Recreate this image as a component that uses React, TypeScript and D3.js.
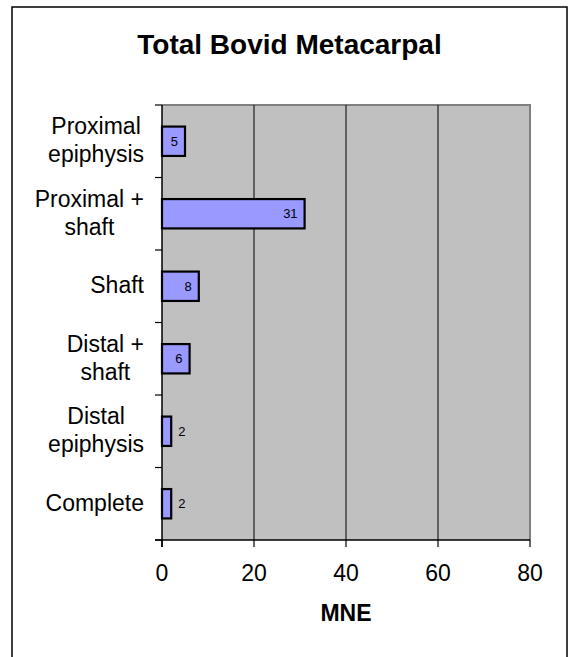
import React, { useEffect, useRef } from "react";
import * as d3 from "d3";

const categories = ["Proximal epiphysis", "Proximal + shaft", "Shaft", "Distal + shaft", "Distal epiphysis", "Complete"];
const categoryLines = [["Proximal", "epiphysis"], ["Proximal +", "shaft"], ["Shaft"], ["Distal +", "shaft"], ["Distal", "epiphysis"], ["Complete"]];
const values = [5, 31, 8, 6, 2, 2];
const xTicks = [0, 20, 40, 60, 80];
const chartTitle = "Total Bovid Metacarpal";
const xAxisTitle = "MNE";

const W = 573;
const H = 657;
const FONT = "'Liberation Sans', Arial, Helvetica, sans-serif";

export default function App() {
  const ref = useRef<SVGSVGElement | null>(null);

  useEffect(() => {
    const svg = d3.select(ref.current);
    svg.selectAll("*").remove();

    const left = 162, right = 530, top = 105, bottom = 540;
    const x = d3.scaleLinear().domain([0, 80]).range([left, right]);
    const y = d3.scaleBand<string>().domain(categories).range([top, bottom]).padding(0);
    const step = y.step();
    const barH = step * 0.405;

    // outer border
    svg.append("rect").attr("x", 12).attr("y", 7).attr("width", 555).attr("height", 660)
      .attr("fill", "white").attr("stroke", "black").attr("stroke-width", 1.5);

    // title
    svg.append("text").attr("x", 289.5).attr("y", 54).attr("text-anchor", "middle")
      .attr("font-family", FONT).attr("font-weight", "bold").attr("font-size", 28)
      .text(chartTitle);

    // plot area
    svg.append("rect").attr("x", left).attr("y", top).attr("width", right - left).attr("height", bottom - top)
      .attr("fill", "#C0C0C0");
    svg.append("path").attr("d", `M${left},${top}H${right}V${bottom}`)
      .attr("fill", "none").attr("stroke", "#808080").attr("stroke-width", 2);

    // gridlines
    svg.append("g").selectAll("line").data(xTicks.filter(t => t > 0 && t < 80)).join("line")
      .attr("x1", d => x(d)).attr("x2", d => x(d)).attr("y1", top).attr("y2", bottom)
      .attr("stroke", "black").attr("stroke-width", 1);

    // bars
    const g = svg.append("g");
    categories.forEach((c, i) => {
      const yc = (y(c) as number) + step / 2;
      g.append("rect").attr("x", x(0)).attr("y", yc - barH / 2)
        .attr("width", x(values[i]) - x(0)).attr("height", barH)
        .attr("fill", "#9999FF").attr("stroke", "black").attr("stroke-width", 2.2);
      const w = x(values[i]) - x(0);
      const inside = w > 20;
      g.append("text")
        .attr("x", inside ? x(values[i]) - 7 : x(values[i]) + 7)
        .attr("y", yc + 4.7)
        .attr("text-anchor", inside ? "end" : "start")
        .attr("font-family", FONT).attr("font-size", 13)
        .text(String(values[i]));
    });

    // axes lines
    svg.append("line").attr("x1", left).attr("x2", left).attr("y1", top).attr("y2", bottom + 7)
      .attr("stroke", "black").attr("stroke-width", 1.5);
    svg.append("line").attr("x1", left - 7).attr("x2", right).attr("y1", bottom).attr("y2", bottom)
      .attr("stroke", "black").attr("stroke-width", 1.5);
    // y ticks at band boundaries
    const boundaries = categories.map(c => y(c) as number).concat([bottom]);
    svg.append("g").selectAll("line").data(boundaries).join("line")
      .attr("x1", left - 7).attr("x2", left).attr("y1", d => d).attr("y2", d => d)
      .attr("stroke", "black").attr("stroke-width", 1.2);
    // x ticks
    svg.append("g").selectAll("line").data(xTicks).join("line")
      .attr("x1", d => x(d)).attr("x2", d => x(d)).attr("y1", bottom).attr("y2", bottom + 7)
      .attr("stroke", "black").attr("stroke-width", 1.2);
    svg.append("g").selectAll("text").data(xTicks).join("text")
      .attr("x", d => x(d)).attr("y", 581).attr("text-anchor", "middle")
      .attr("font-family", FONT).attr("font-size", 23).text(d => String(d));

    // category labels
    const lh = 28;
    categories.forEach((c, i) => {
      const yc = (y(c) as number) + step / 2;
      const lines = categoryLines[i];
      const grp = svg.append("g");
      const texts = lines.map((ln, j) =>
        grp.append("text")
          .attr("y", yc - ((lines.length - 1) * lh) / 2 + j * lh + 7)
          .attr("text-anchor", "middle")
          .attr("font-family", FONT).attr("font-size", 23)
          .text(ln)
      );
      let maxW = 0;
      texts.forEach(t => {
        const n = t.node() as SVGTextElement;
        maxW = Math.max(maxW, n.getComputedTextLength());
      });
      texts.forEach(t => t.attr("x", 144 - maxW / 2));
    });

    // x axis title
    svg.append("text").attr("x", (left + right) / 2).attr("y", 621).attr("text-anchor", "middle")
      .attr("font-family", FONT).attr("font-weight", "bold").attr("font-size", 23)
      .text(xAxisTitle);
  }, []);

  return (
    <svg ref={ref} width={W} height={H} style={{ position: "absolute", left: 0, top: 0, background: "white" }} />
  );
}
